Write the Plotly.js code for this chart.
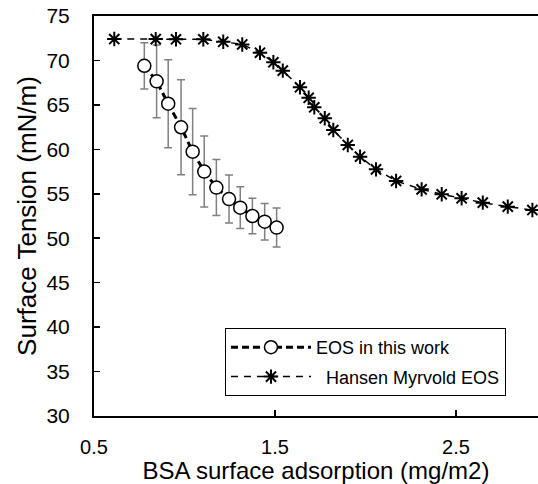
<!DOCTYPE html>
<html>
<head>
<meta charset="utf-8">
<script src="https://cdn.plot.ly/plotly-3.0.1.min.js"></script>
<style>html,body{margin:0;padding:0;overflow:hidden;background:#fff;}</style>
</head>
<body>
<div id="chart" style="width:538px;height:484px;"></div>
<script>
// EOS in this work (with error bars)
const eosX = [0.778, 0.846, 0.910, 0.981, 1.045, 1.109, 1.176, 1.246, 1.308, 1.375, 1.443, 1.509];
const eosY = [69.4, 67.65, 65.13, 62.48, 59.74, 57.5, 55.7, 54.4, 53.44, 52.5, 51.86, 51.2];
const eosErr = [2.6, 4.1, 4.95, 5.35, 4.85, 4.0, 3.15, 2.7, 2.35, 2.0, 2.05, 2.2];

// Hansen Myrvold EOS
const hmX = [0.612, 0.841, 0.953, 1.104, 1.214, 1.319, 1.417, 1.491, 1.543, 1.638, 1.686, 1.717,
             1.775, 1.822, 1.902, 1.970, 2.058, 2.169, 2.310, 2.421, 2.531, 2.648, 2.786, 2.922];
const hmY = [72.41, 72.4, 72.38, 72.38, 72.1, 71.8, 70.87, 69.79, 68.85, 66.98, 65.8, 64.73,
             63.49, 62.17, 60.49, 59.17, 57.75, 56.44, 55.5, 54.94, 54.49, 54.0, 53.55, 53.17];

const seriesNames = ['EOS in this work', '\u00a0\u00a0Hansen Myrvold EOS'];
const xTickVals = [0.5, 1.5, 2.5];
const yTickVals = [30, 35, 40, 45, 50, 55, 60, 65, 70, 75];

const FONT = 'Liberation Sans, Arial, sans-serif';

const traces = [
  {
    x: eosX, y: eosY, name: seriesNames[0], type: 'scatter', mode: 'lines+markers',
    legendgroup: 'a',
    line: {color: '#000', width: 3, dash: '7px,4px'},
    marker: {symbol: 'circle', size: 13, color: '#fff', line: {color: '#000', width: 1.5}},
    error_y: {type: 'data', array: eosErr, visible: true, color: '#808080', thickness: 1.5, width: 4}
  },
  {
    x: hmX, y: hmY, name: seriesNames[1], type: 'scatter', mode: 'lines+markers',
    legendgroup: 'b',
    line: {color: '#000', width: 1.5, dash: '7px,6px'},
    marker: {symbol: 'asterisk-open', size: 12, color: '#000', line: {color: '#000', width: 2}}
  }
];

const layout = {
  width: 538, height: 484,
  margin: {l: 94, r: 0, t: 16, b: 68},
  paper_bgcolor: '#fff', plot_bgcolor: '#fff',
  font: {family: FONT, color: '#000'},
  showlegend: true,
  legend: {
    x: 0.295, y: 0.22, xanchor: 'left', yanchor: 'top',
    bordercolor: '#000', borderwidth: 1, bgcolor: '#fff',
    font: {family: FONT, size: 18, color: '#000'},
    traceorder: 'grouped', tracegroupgap: 3,
    itemwidth: 80
  },
  xaxis: {
    range: [0.5, 2.953], tickmode: 'array', tickvals: xTickVals, ticktext: xTickVals.map(v => v.toFixed(1)),
    showgrid: false, zeroline: false,
    showline: true, linecolor: '#000', linewidth: 2, mirror: true,
    ticks: 'inside', ticklen: 6, tickwidth: 1.5, tickcolor: '#000',
    ticklabelstandoff: 12,
    tickfont: {family: FONT, size: 20, color: '#000'},
    title: {text: 'BSA surface adsorption (mg/m2)', font: {family: FONT, size: 24, color: '#000'}, standoff: 4}
  },
  yaxis: {
    range: [30, 75], tickmode: 'array', tickvals: yTickVals,
    showgrid: false, zeroline: false,
    showline: true, linecolor: '#000', linewidth: 2, mirror: false,
    ticks: 'inside', ticklen: 6, tickwidth: 1.5, tickcolor: '#000',
    ticklabelstandoff: 18,
    tickfont: {family: FONT, size: 21, color: '#000'},
    title: {text: 'Surface Tension (mN/m)', font: {family: FONT, size: 26, color: '#000'}, standoff: 2}
  }
};

Plotly.newPlot('chart', traces, layout, {displayModeBar: false, staticPlot: true});
</script>
</body>
</html>
